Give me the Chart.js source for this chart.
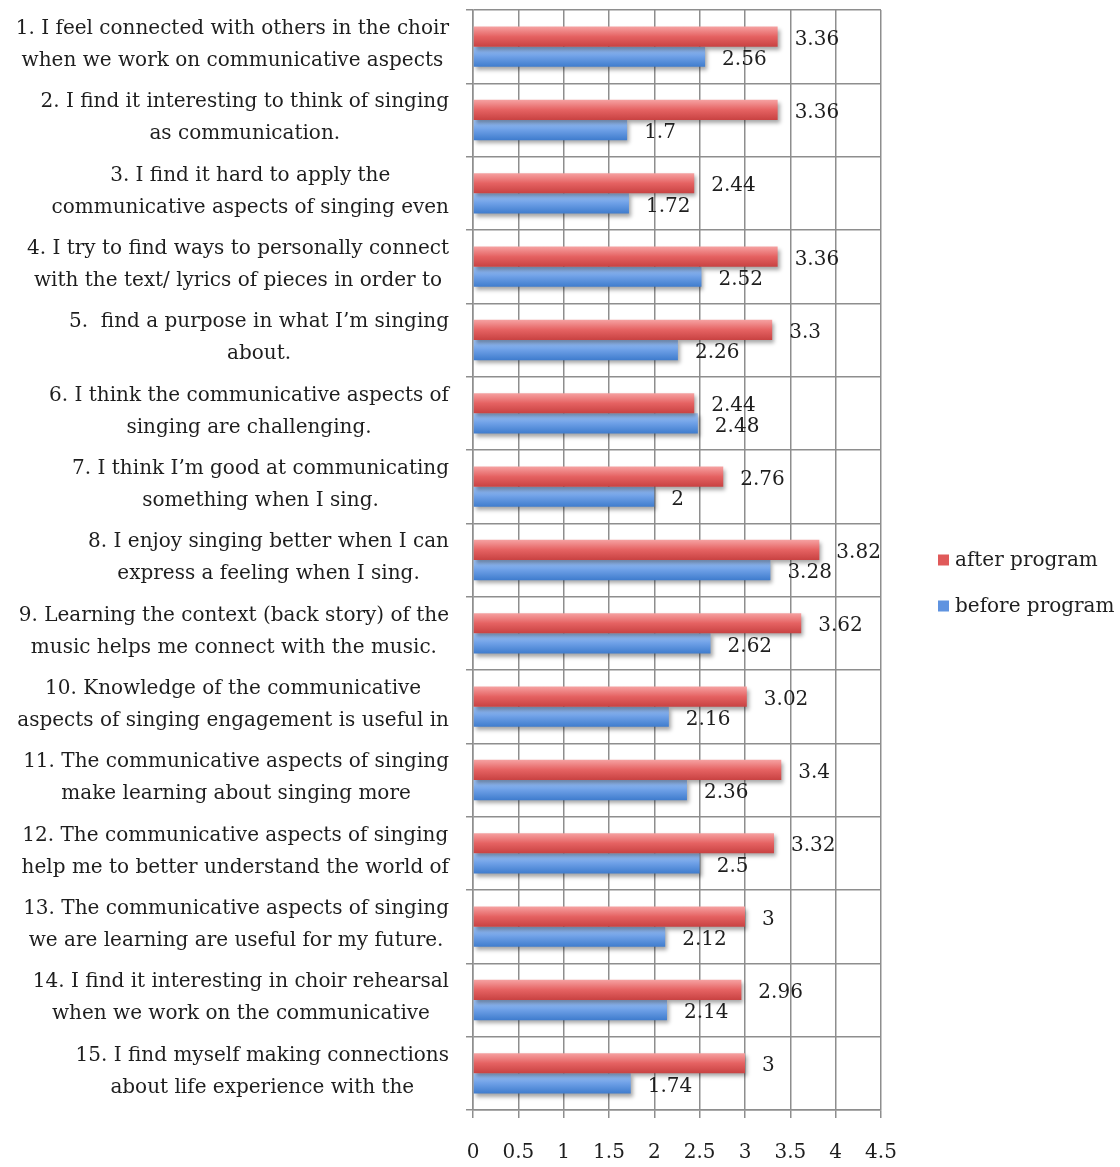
<!DOCTYPE html>
<html>
<head>
<meta charset="utf-8">
<script src="https://cdn.jsdelivr.net/npm/chart.js@4.4.1/dist/chart.umd.min.js"></script>
<style>
  html, body { margin: 0; padding: 0; background: #ffffff; }
  canvas { display: block; }
</style>
</head>
<body>
<canvas id="chart" width="1120" height="1167"></canvas>
<script>
// Survey statements (two visible lines each)
const statements = [
  ['1. I feel connected with others in the choir', 'when we work on communicative aspects'],
  ['2. I find it interesting to think of singing', 'as communication.'],
  ['3. I find it hard to apply the', 'communicative aspects of singing even'],
  ['4. I try to find ways to personally connect', 'with the text/ lyrics of pieces in order to'],
  ['5.  find a purpose in what I\u2019m singing', 'about.'],
  ['6. I think the communicative aspects of', 'singing are challenging.'],
  ['7. I think I\u2019m good at communicating', 'something when I sing.'],
  ['8. I enjoy singing better when I can', 'express a feeling when I sing.'],
  ['9. Learning the context (back story) of the', 'music helps me connect with the music.'],
  ['10. Knowledge of the communicative', 'aspects of singing engagement is useful in'],
  ['11. The communicative aspects of singing', 'make learning about singing more'],
  ['12. The communicative aspects of singing', 'help me to better understand the world of'],
  ['13. The communicative aspects of singing', 'we are learning are useful for my future.'],
  ['14. I find it interesting in choir rehearsal', 'when we work on the communicative'],
  ['15. I find myself making connections', 'about life experience with the']
];

// Mean ratings
const afterProgram  = [3.36, 3.36, 2.44, 3.36, 3.3, 2.44, 2.76, 3.82, 3.62, 3.02, 3.4, 3.32, 3, 2.96, 3];
const beforeProgram = [2.56, 1.7, 1.72, 2.52, 2.26, 2.48, 2, 3.28, 2.62, 2.16, 2.36, 2.5, 2.12, 2.14, 1.74];

const seriesNames = ['after program', 'before program'];

// Value axis range
const axisMin = 0;
const axisMax = 4.5;
const axisStep = 0.5;

const FONT_FAMILY = "'DejaVu Serif', serif";
const FONT_SIZE = 20;
const TEXT_COLOR = '#1e1e1e';
const GRID_COLOR = '#8e8e8e';
const CATEGORY_PCT = 0.55;

const seriesStyle = [
  { top: '#f6a2a2', mid: '#e56262', bottom: '#c84242', swatch: '#e05a5a' },
  { top: '#a2c6f7', mid: '#6d9fe6', bottom: '#3f7ccd', swatch: '#5f93e0' }
];

// Vertical gradient for each bar, computed from the category scale
function barFill(style) {
  return (ctx) => {
    if (ctx.type !== 'data') return style.mid;
    const chart = ctx.chart;
    const yScale = chart.scales && chart.scales.y;
    if (!yScale || !chart.chartArea) return style.mid;
    const center = yScale.getPixelForValue(ctx.dataIndex);
    const step = Math.abs(yScale.getPixelForValue(1) - yScale.getPixelForValue(0));
    const half = step * CATEGORY_PCT / 2;
    const y0 = ctx.datasetIndex === 0 ? center - half : center;
    const g = chart.ctx.createLinearGradient(0, y0, 0, y0 + half);
    g.addColorStop(0, style.top);
    g.addColorStop(0.5, style.mid);
    g.addColorStop(1, style.bottom);
    return g;
  };
}

// Soft drop shadow under the bars
const barShadow = {
  id: 'barShadow',
  beforeDatasetsDraw(chart) {
    const c = chart.ctx;
    c.save();
    c.shadowColor = 'rgba(0,0,0,0.35)';
    c.shadowBlur = 4;
    c.shadowOffsetX = 2;
    c.shadowOffsetY = 3;
  },
  afterDatasetsDraw(chart) {
    chart.ctx.restore();
  }
};

// Value printed to the right of each bar
const valueLabels = {
  id: 'valueLabels',
  afterDatasetsDraw(chart) {
    const c = chart.ctx;
    c.save();
    c.font = FONT_SIZE + 'px ' + FONT_FAMILY;
    c.fillStyle = TEXT_COLOR;
    c.textAlign = 'left';
    c.textBaseline = 'middle';
    chart.data.datasets.forEach((ds, di) => {
      const meta = chart.getDatasetMeta(di);
      meta.data.forEach((bar, i) => {
        c.fillText(String(ds.data[i]), bar.x + 17, bar.y + 3);
      });
    });
    c.restore();
  }
};

// Category labels: lines centred on each other, block right-aligned to the axis
const categoryLabels = {
  id: 'categoryLabels',
  afterDraw(chart) {
    const scale = chart.scales.y;
    const c = chart.ctx;
    const lineH = 32;
    const right = scale.right - scale.options.grid.tickLength - scale.options.ticks.padding;
    c.save();
    c.font = FONT_SIZE + 'px ' + FONT_FAMILY;
    c.fillStyle = TEXT_COLOR;
    c.textAlign = 'center';
    c.textBaseline = 'middle';
    chart.data.labels.forEach((lines, i) => {
      const y = scale.getPixelForTick(i);
      const w = Math.max(...lines.map(t => c.measureText(t).width));
      const cx = right - w / 2;
      lines.forEach((t, j) => {
        c.fillText(t, cx, y + (j - (lines.length - 1) / 2) * lineH - 2);
      });
    });
    c.restore();
  }
};

// Legend at the right, vertically centred on the canvas
const sideLegend = {
  id: 'sideLegend',
  afterDraw(chart) {
    const c = chart.ctx;
    const x = chart.chartArea.right + 57;
    const mid = chart.height / 2;
    const rowGap = 46;
    c.save();
    c.font = FONT_SIZE + 'px ' + FONT_FAMILY;
    c.textAlign = 'left';
    c.textBaseline = 'middle';
    chart.data.datasets.forEach((ds, i) => {
      const y = mid + (i - (chart.data.datasets.length - 1) / 2) * rowGap;
      c.fillStyle = seriesStyle[i].swatch;
      c.fillRect(x, y - 6, 11, 11);
      c.fillStyle = TEXT_COLOR;
      c.fillText(ds.label, x + 17, y);
    });
    c.restore();
  }
};

new Chart(document.getElementById('chart'), {
  type: 'bar',
  data: {
    labels: statements,
    datasets: [
      { label: seriesNames[0], data: afterProgram, backgroundColor: barFill(seriesStyle[0]) },
      { label: seriesNames[1], data: beforeProgram, backgroundColor: barFill(seriesStyle[1]) }
    ]
  },
  options: {
    indexAxis: 'y',
    responsive: false,
    animation: false,
    devicePixelRatio: 1,
    categoryPercentage: CATEGORY_PCT,
    barPercentage: 1.0,
    borderSkipped: false,
    layout: { padding: { top: 10, right: 239, left: 0, bottom: 0 } },
    plugins: {
      legend: { display: false },
      tooltip: { enabled: false }
    },
    scales: {
      x: {
        min: axisMin,
        max: axisMax,
        ticks: {
          stepSize: axisStep,
          color: TEXT_COLOR,
          font: { family: FONT_FAMILY, size: FONT_SIZE },
          padding: 23,
          maxRotation: 0,
          autoSkip: false,
          callback: (v) => String(Math.round(v * 10) / 10)
        },
        grid: { color: GRID_COLOR, lineWidth: 1.5, tickLength: 8 },
        border: { color: GRID_COLOR, width: 1.5 },
        afterFit(scale) { scale.height = 57; }
      },
      y: {
        grid: { color: GRID_COLOR, lineWidth: 1.5, offset: true, tickLength: 7 },
        border: { color: GRID_COLOR, width: 1.5 },
        ticks: {
          color: 'rgba(0,0,0,0)',
          font: { family: FONT_FAMILY, size: FONT_SIZE },
          padding: 17,
          autoSkip: false,
          // statement text is drawn by the categoryLabels plugin
          callback: () => ''
        },
        afterFit(scale) {
          scale.width = 473;
          scale.paddingTop = 0;
          scale.paddingBottom = 0;
        }
      }
    }
  },
  plugins: [barShadow, valueLabels, categoryLabels, sideLegend]
});
</script>
</body>
</html>
